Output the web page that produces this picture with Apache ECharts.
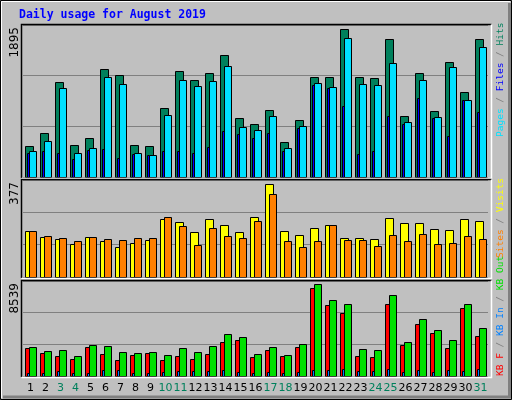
<!DOCTYPE html>
<html><head><meta charset="utf-8">
<script src="https://cdn.jsdelivr.net/npm/echarts@6/dist/echarts.min.js"></script>
<style>html,body{margin:0;padding:0;background:#c0c0c0}#c{width:512px;height:400px}</style>
</head><body><div id="c"></div>
<script>
const days = Array.from({length:31},(_,i)=>String(i+1));
const weekends = ['3','4','10','11','17','18','24','25','31'];
const hits  = [383,554,1179,404,491,1341,1266,404,392,854,1316,1204,1291,1516,741,666,841,441,716,1241,1241,1841,1241,1229,1716,766,1291,829,1429,1054,1716];
const files = [329,454,1104,304,367,1241,1154,304,279,779,1204,1129,1191,1379,629,591,766,367,641,1166,1116,1729,1154,1141,1416,691,1204,754,1366,954,1616];
const pages = [304,329,304,229,342,354,242,292,279,329,329,304,379,579,541,491,554,329,616,1141,1104,891,292,329,766,666,991,741,516,954,816];
const visits= [177,157,146,130,157,138,118,134,142,224,212,173,224,204,173,235,360,177,165,189,204,150,150,146,231,208,208,185,181,224,216];
const sites = [177,161,150,138,157,146,142,150,153,235,200,126,192,161,150,216,321,138,118,138,204,142,142,122,165,138,169,130,134,161,146];
const kbF   = [2487,2037,1768,1498,2577,1947,1408,1858,2037,1408,1768,1498,1947,3026,3206,1678,2307,1768,2577,7879,6352,5632,1768,1678,6441,2756,4644,3835,2487,6082,3565];
const kbIn  = [240,240,419,240,240,509,509,240,240,330,419,419,419,509,330,240,330,240,330,509,509,599,419,419,599,330,509,330,509,419,599];
const kbOut = [2577,2217,2307,1768,2756,2666,2127,2037,2127,1858,2487,2127,2666,3745,3475,1947,2577,1858,2846,8239,6801,6441,2397,2307,7250,3026,5093,4105,3206,6441,4284];
const maxima = [1895, 377, 8539];

const chart = echarts.init(document.getElementById('c'));
const panels = [{top:25,h:152},{top:180,h:97},{top:281,h:95}];
const grids = panels.map(p=>({left:23,width:465,top:p.top,height:p.h}));

function mk(series3, colors, ax){
  const data = days.map((d,i)=>[i, series3[0][i], series3[1][i], series3[2][i]]);
  return {
    type:'custom', xAxisIndex:ax, yAxisIndex:ax, data,
    encode:{x:0,y:[1,2,3]},
    renderItem:(params, api)=>{
      const i = api.value(0);
      const base = api.coord([i,0]);
      const s = base[0]-7.5, y0 = base[1];
      const r = (x1,x2,v,c)=>{ const y=api.coord([i,v])[1];
        return {type:'rect',shape:{x:Math.round(s+x1)+0.5,y:Math.round(y)+0.5,width:Math.round(x2-x1),height:Math.round(y0-y)},
          style:{fill:c,stroke:'#000',lineWidth:1}}; };
      return {type:'group',children:[
        r(2,9.7,api.value(1),colors[0]),
        r(4,6.3,api.value(3),colors[2]),
        r(6.3,13.7,api.value(2),colors[1])
      ]};
    }
  };
}

const xAxis = grids.map((g,k)=>({type:'category',gridIndex:k,data:days,boundaryGap:true,
  axisLine:{show:false},axisTick:{show:false},
  axisLabel:{show:k===2,interval:0,fontSize:11,margin:7,fontFamily:'DejaVu Sans',
    color:(v)=>weekends.includes(v)?'#00805c':'#000'}}));
const yAxis = maxima.map((m,k)=>({type:'value',gridIndex:k,min:0,max:m,interval:m/3,
  axisLabel:{show:false},axisLine:{show:false},axisTick:{show:false},
  splitLine:{show:true,lineStyle:{color:'#808080',width:1}}}));

const graphics = [
  {type:'rect',shape:{x:0.5,y:0.5,width:511,height:399},style:{fill:'none',stroke:'#000'},z:0},
  {type:'polyline',shape:{points:[[1.5,398],[1.5,1.5],[510,1.5]]},style:{stroke:'#fff',fill:null}},
  {type:'polyline',shape:{points:[[3,397],[509.5,397],[509.5,3]]},style:{stroke:'#808080',lineWidth:3,fill:null}},
  {type:'text',x:19,y:15,style:{text:'Daily usage for August 2019',fill:'#0000ff',font:'bold 11.5px "DejaVu Sans Mono"',verticalAlign:'middle'}}
];
panels.forEach((p,k)=>{
  graphics.push({type:'polyline',shape:{points:[[21.5,p.top+p.h+1],[21.5,p.top-0.5],[491.5,p.top-0.5]]},style:{stroke:'#000',lineWidth:1.5,fill:null},z:100});
  graphics.push({type:'polyline',shape:{points:[[21.5,p.top+p.h+1.5],[491.5,p.top+p.h+1.5],[491.5,p.top-0.5]]},style:{stroke:'#fff',lineWidth:1.5,fill:null},z:100});
  graphics.push({type:'text',x:15,y:p.top+2,rotation:Math.PI/2,style:{text:String(maxima[k]),fill:'#000',font:'12px "DejaVu Sans"',align:'right',verticalAlign:'middle'}});
});
function vlabel(y, parts){
  const rich={}; let txt='';
  parts.forEach((pt,j)=>{rich['p'+j]={fill:pt[1],font:'9.5px "DejaVu Sans Mono"'}; txt+='{p'+j+'|'+pt[0]+'}';});
  graphics.push({type:'text',x:501,y:y,rotation:Math.PI/2,style:{text:txt,rich,align:'left',verticalAlign:'middle'}});
}
vlabel(137,[['Pages','#00e0ff'],[' / ','#808080'],['Files','#0000ff'],[' / ','#808080'],['Hits','#00805c']]);
vlabel(258,[['Sites','#ff8000'],[' / ','#808080'],['Visits','#ffff00']]);
vlabel(376,[['KB F','#ff0000'],[' / ','#808080'],['KB In','#0080ff'],[' / ','#808080'],['KB Out','#00e000']]);

chart.setOption({
  animation:false, backgroundColor:'#c0c0c0',
  grid:grids, xAxis, yAxis, graphic:graphics,
  series:[
    mk([hits,files,pages],['#00805c','#00e0ff','#0000ff'],0),
    mk([visits,sites,[]],['#ffff00','#ff8000','rgba(0,0,0,0)'],1),
    mk([kbF,kbOut,kbIn],['#ff0000','#00e000','#0080ff'],2)
  ]
});
</script></body></html>
